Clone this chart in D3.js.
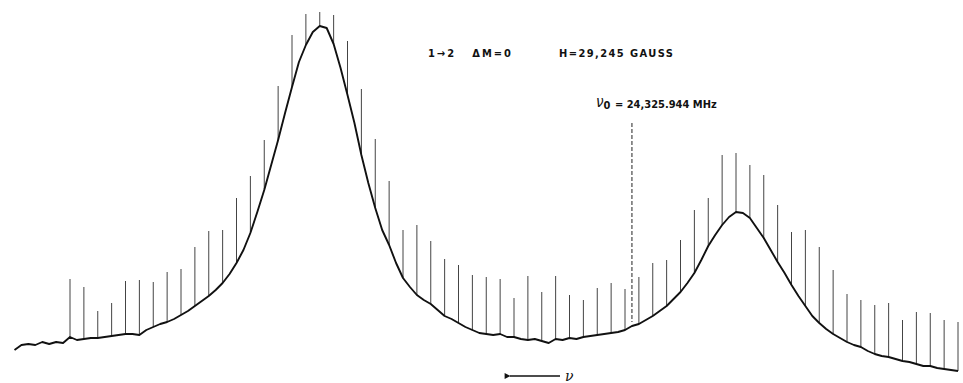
<!DOCTYPE html>
<html>
<head>
<meta charset="utf-8">
<script src="https://cdn.jsdelivr.net/npm/d3@7"></script>
<style>
  html, body { margin: 0; padding: 0; background: #fff; }
  svg { display: block; }
  .lbl { font-family: "DejaVu Sans Condensed", "DejaVu Sans", sans-serif; font-weight: bold; fill: #111; }
</style>
</head>
<body>
<svg id="chart" width="963" height="383"></svg>
<script>
// signal trace, sampled every half marker step starting at marker -4
const traceStart = -4
const traceStep = 0.5
const trace = [
  22, 27, 28, 27, 30, 28, 30, 29,
  35, 32, 33, 34, 34, 35, 36, 37, 38, 38, 37, 42, 45, 48, 50, 53, 57, 61, 66, 71, 76, 82, 89, 98,
  109, 122, 139, 160, 182, 207, 232, 259, 285, 310, 327, 340, 346, 344, 328, 304,
  277, 249, 217, 189, 164, 142, 127, 109, 94, 85, 77, 72, 68, 62, 56, 53,
  49, 45, 42, 39, 38, 37, 38, 35, 35, 33, 32, 33, 31, 29, 33, 32,
  34, 33, 35, 36, 37, 38, 39, 40, 42, 46, 48, 52, 56, 61, 66, 73,
  80, 89, 99, 112, 126, 137, 147, 155, 160, 159, 154, 144, 134, 122, 110, 99,
  87, 76, 66, 56, 49, 43, 38, 34, 30, 27, 25, 21, 18, 16, 15, 13,
  11, 10, 8, 6, 6, 4, 3, 2, 1
]

// frequency marker pips, top of each pip (one per marker step)
const markerTops = [
  93, 85, 61, 69, 91, 92, 90, 100, 103, 125, 141, 142, 174, 196, 232, 286,
  337, 358, 360, 357, 331, 283, 233, 191, 142, 147, 131, 113, 107, 97, 95, 93,
  74, 96, 80, 96, 77, 72, 84, 89, 83, 95, 109, 112, 132, 162, 174, 217,
  219, 207, 197, 167, 140, 142, 125, 102, 78, 72, 67, 69, 52, 60, 59, 52, 50
]

// centre frequency position (in marker steps) and top of its dashed line
const nu0Pos = 40.5
const nu0Top = 249

const title1 = '1\u21922   \u0394M=0'
const title2 = 'H=29,245 GAUSS'
const nu0Label = '= 24,325.944 MHz'

const svg = d3.select('#chart')

const x = d3.scaleLinear().domain([0, 64]).range([70, 958])
const y = d3.scaleLinear().domain([0, 360]).range([372, 12])

const tracePts = trace.map((v, i) => ({ t: traceStart + i * traceStep, v }))

function traceAt (t) {
  const i = Math.round((t - traceStart) / traceStep)
  return trace[Math.max(0, Math.min(trace.length - 1, i))]
}

// marker pips, drawn from the trace up
svg.append('g')
  .selectAll('line')
  .data(markerTops)
  .enter()
  .append('line')
  .attr('x1', (d, i) => x(i))
  .attr('x2', (d, i) => x(i))
  .attr('y1', (d, i) => y(traceAt(i)))
  .attr('y2', d => y(d))
  .style('stroke', '#444')
  .style('stroke-width', 1)

// dashed line at nu0
svg.append('line')
  .attr('x1', x(nu0Pos))
  .attr('x2', x(nu0Pos))
  .attr('y1', y(nu0Top))
  .attr('y2', y(traceAt(nu0Pos) + 4))
  .style('stroke', '#222')
  .style('stroke-width', 1)
  .style('stroke-dasharray', '4,2')

// the trace
const line = d3.line()
  .x(d => x(d.t))
  .y(d => y(d.v))

svg.append('path')
  .datum(tracePts)
  .attr('d', line)
  .style('fill', 'none')
  .style('stroke', '#111')
  .style('stroke-width', 1.9)
  .style('stroke-linejoin', 'round')

// labels
svg.append('text')
  .attr('class', 'lbl')
  .attr('x', 428).attr('y', 57)
  .attr('font-size', 11)
  .attr('textLength', 83)
  .attr('lengthAdjust', 'spacing')
  .style('white-space', 'pre')
  .text(title1)

svg.append('text')
  .attr('class', 'lbl')
  .attr('x', 559).attr('y', 57)
  .attr('font-size', 11)
  .attr('textLength', 114)
  .attr('lengthAdjust', 'spacing')
  .text(title2)

// nu0 label as one text: symbol, subscript, value
const nuText = svg.append('text')
  .attr('class', 'lbl')
  .attr('x', 596).attr('y', 107)
  .style('white-space', 'pre')
nuText.append('tspan')
  .attr('font-size', 15)
  .attr('font-style', 'italic')
  .attr('font-weight', 'normal')
  .text('\u03bd')
nuText.append('tspan')
  .attr('font-size', 11)
  .attr('dy', 2)
  .text('0')
nuText.append('tspan')
  .attr('font-size', 11)
  .attr('x', 615)
  .attr('dy', -1)
  .text(nu0Label)

// frequency direction arrow
svg.append('defs').append('marker')
  .attr('id', 'ah')
  .attr('viewBox', '0 0 10 10')
  .attr('refX', 1).attr('refY', 5)
  .attr('markerWidth', 9).attr('markerHeight', 6)
  .attr('markerUnits', 'userSpaceOnUse')
  .attr('orient', 'auto')
  .append('path')
  .attr('d', 'M10,0 L0,5 L10,10 Z')
  .style('fill', '#111')

svg.append('line')
  .attr('x1', 560).attr('x2', 510)
  .attr('y1', 376).attr('y2', 376)
  .attr('marker-end', 'url(#ah)')
  .style('stroke', '#111')
  .style('stroke-width', 1.5)

svg.append('text')
  .attr('x', 565).attr('y', 381)
  .attr('font-family', 'DejaVu Serif, serif')
  .attr('font-style', 'italic')
  .attr('font-size', 14)
  .style('fill', '#111')
  .text('\u03bd')
</script>
</body>
</html>
